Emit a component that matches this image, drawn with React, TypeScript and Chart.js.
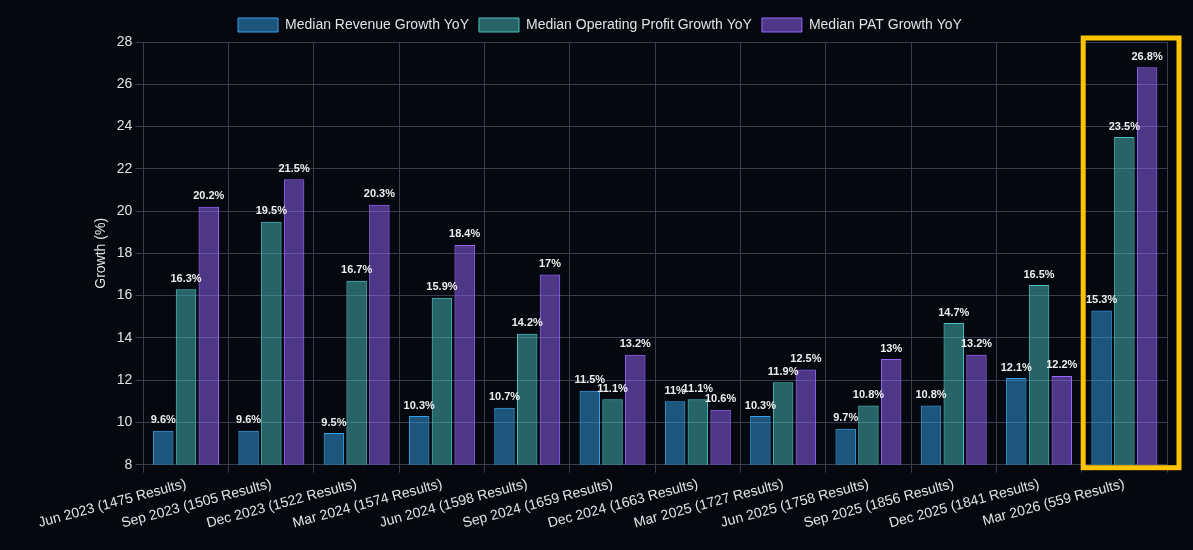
import React, { useEffect, useRef } from "react";
import { Chart, registerables } from "chart.js";

Chart.register(...registerables);

const categories = [
  "Jun 2023 (1475 Results)",
  "Sep 2023 (1505 Results)",
  "Dec 2023 (1522 Results)",
  "Mar 2024 (1574 Results)",
  "Jun 2024 (1598 Results)",
  "Sep 2024 (1659 Results)",
  "Dec 2024 (1663 Results)",
  "Mar 2025 (1727 Results)",
  "Jun 2025 (1758 Results)",
  "Sep 2025 (1856 Results)",
  "Dec 2025 (1841 Results)",
  "Mar 2026 (559 Results)",
];

const revenueGrowth = [9.6, 9.6, 9.5, 10.3, 10.7, 11.5, 11, 10.3, 9.7, 10.8, 12.1, 15.3];
const opProfitGrowth = [16.3, 19.5, 16.7, 15.9, 14.2, 11.1, 11.1, 11.9, 10.8, 14.7, 16.5, 23.5];
const patGrowth = [20.2, 21.5, 20.3, 18.4, 17, 13.2, 10.6, 12.5, 13, 13.2, 12.2, 26.8];

const seriesNames = [
  "Median Revenue Growth YoY",
  "Median Operating Profit Growth YoY",
  "Median PAT Growth YoY",
];

const highlightIndex = 11;

const BG = "#05090f";
const GRID = "#353e4c";
const TEXT = "#e2e2e2";

const valueLabelPlugin = {
  id: "valueLabels",
  afterDatasetsDraw(chart: any) {
    const ctx = chart.ctx;
    ctx.save();
    ctx.font = "bold 11px 'Helvetica Neue', Helvetica, Arial, sans-serif";
    ctx.fillStyle = "#eeeeee";
    ctx.textAlign = "center";
    ctx.textBaseline = "bottom";
    chart.data.datasets.forEach((ds: any, di: number) => {
      const meta = chart.getDatasetMeta(di);
      meta.data.forEach((bar: any, i: number) => {
        ctx.fillText(ds.data[i] + "%", bar.x, bar.y - 5);
      });
    });
    ctx.restore();
  },
};

const highlightPlugin = {
  id: "highlightBox",
  afterDraw(chart: any) {
    const x = chart.scales.x;
    const area = chart.chartArea;
    const catW = x.width / chart.data.labels.length;
    const cx = x.getPixelForValue(highlightIndex);
    const left = cx - catW / 2 + 1.5;
    const right = cx + catW / 2 + 12;
    const top = area.top - 4;
    const bottom = area.bottom + 3;
    const ctx = chart.ctx;
    ctx.save();
    ctx.strokeStyle = "#ffc400";
    ctx.lineWidth = 5;
    ctx.strokeRect(left, top, right - left, bottom - top);
    ctx.restore();
  },
};

export default function App() {
  const canvasRef = useRef<HTMLCanvasElement | null>(null);

  useEffect(() => {
    document.body.style.background = BG;
    Chart.defaults.font.family = "'Helvetica Neue', Helvetica, Arial, sans-serif";
    const chart = new Chart(canvasRef.current as HTMLCanvasElement, {
      type: "bar",
      data: {
        labels: categories,
        datasets: [
          {
            label: seriesNames[0],
            data: revenueGrowth,
            backgroundColor: "rgba(54,162,235,0.5)",
            borderColor: "rgb(54,162,235)",
            borderWidth: 1,
          },
          {
            label: seriesNames[1],
            data: opProfitGrowth,
            backgroundColor: "rgba(75,192,192,0.5)",
            borderColor: "rgb(75,192,192)",
            borderWidth: 1,
          },
          {
            label: seriesNames[2],
            data: patGrowth,
            backgroundColor: "rgba(153,102,255,0.5)",
            borderColor: "rgb(153,102,255)",
            borderWidth: 1,
          },
        ],
      },
      options: {
        responsive: false,
        animation: false,
        maintainAspectRatio: false,
        layout: { padding: { left: 25, right: 18, top: 0, bottom: 7 } },
        plugins: {
          legend: {
            position: "top",
            labels: {
              color: TEXT,
              font: { size: 14 },
              boxWidth: 40,
              boxHeight: 14,
            },
          },
          tooltip: { enabled: false },
        },
        scales: {
          x: {
            grid: { color: GRID, tickLength: 8 },
            border: { color: GRID },
            ticks: { color: TEXT, font: { size: 14 }, minRotation: 15, maxRotation: 15 },
          },
          y: {
            min: 8,
            max: 28,
            ticks: { stepSize: 2, color: TEXT, font: { size: 14 } },
            grid: { color: GRID, tickLength: 8 },
            border: { color: GRID },
            title: {
              display: true,
              text: "Growth (%)",
              color: TEXT,
              font: { size: 14 },
              padding: { top: 60, bottom: 4 },
            },
          },
        },
      },
      plugins: [valueLabelPlugin, highlightPlugin],
    });
    return () => chart.destroy();
  }, []);

  return (
    <div style={{ width: 1177, height: 534, background: BG }}>
      <canvas ref={canvasRef} width={1177} height={534} style={{ display: "block" }} />
    </div>
  );
}
